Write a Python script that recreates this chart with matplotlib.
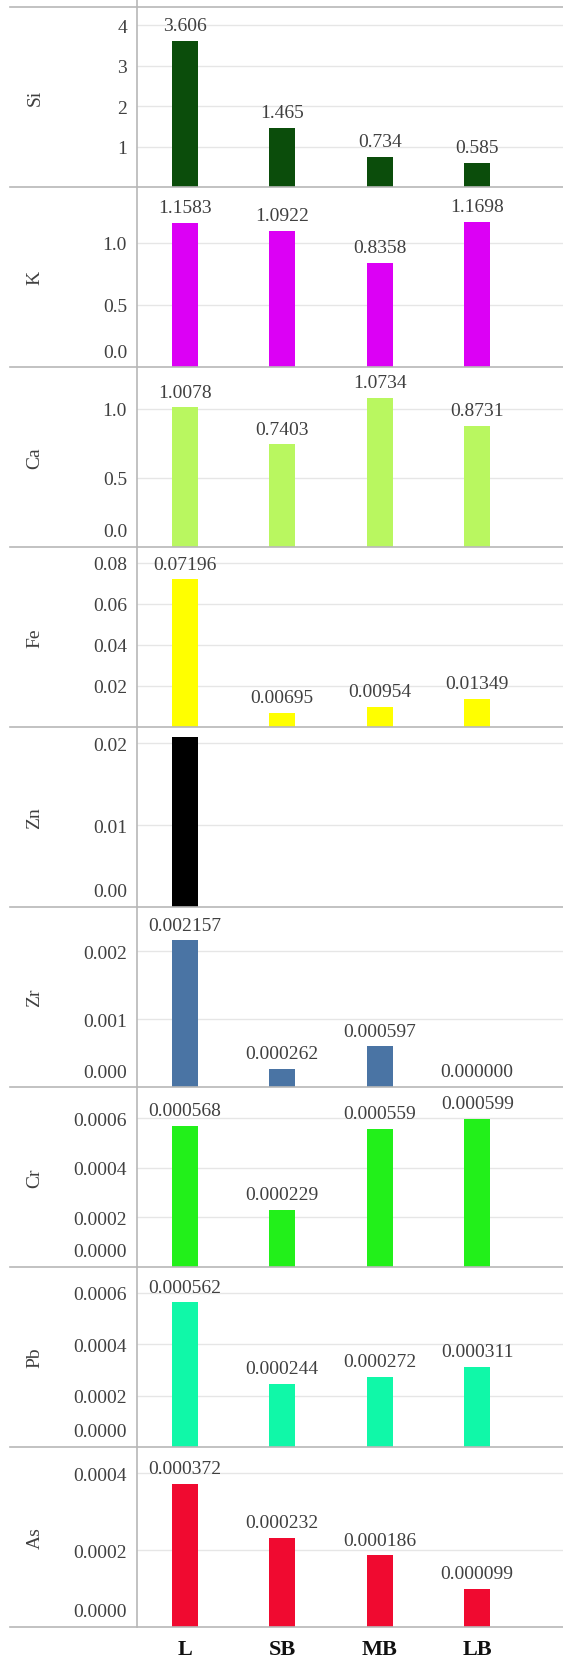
import matplotlib
matplotlib.use('Agg')
import matplotlib.pyplot as plt
from matplotlib.lines import Line2D
from matplotlib.ticker import FuncFormatter

plt.rcParams['font.family'] = ['Liberation Serif', 'DejaVu Serif']

sites = ['L', 'SB', 'MB', 'LB']

elements = ['Si', 'K', 'Ca', 'Fe', 'Zn', 'Zr', 'Cr', 'Pb', 'As']
si = [3.606, 1.465, 0.734, 0.585]
k = [1.1583, 1.0922, 0.8358, 1.1698]
ca = [1.0078, 0.7403, 1.0734, 0.8731]
fe = [0.07196, 0.00695, 0.00954, 0.01349]
zn = [0.0208, 0.0, 0.0, 0.0]
zr = [0.002157, 0.000262, 0.000597, 0.000000]
cr = [0.000568, 0.000229, 0.000559, 0.000599]
pb = [0.000562, 0.000244, 0.000272, 0.000311]
as_ = [0.000372, 0.000232, 0.000186, 0.000099]
values = [si, k, ca, fe, zn, zr, cr, pb, as_]

colors = ['#0b4d0b', '#dc00f5', '#b9f760', '#ffff00', '#000000',
          '#4a74a4', '#22f01a', '#10f8a8', '#f00a30']

# y range, ticks, tick format, value-label format (None = no labels)
ymax = [4.45, 1.45, 1.30, 0.0878, 0.0220, 0.00265, 0.000727, 0.000700, 0.000468]
yticks = [[1, 2, 3, 4], [0, 0.5, 1.0], [0, 0.5, 1.0],
          [0.02, 0.04, 0.06, 0.08], [0, 0.01, 0.02], [0, 0.001, 0.002],
          [0, 0.0002, 0.0004, 0.0006], [0, 0.0002, 0.0004, 0.0006],
          [0, 0.0002, 0.0004]]
tick_fmt = ['%d', '%.1f', '%.1f', '%.2f', '%.2f', '%.3f', '%.4f', '%.4f', '%.4f']
val_fmt = ['%.3f', '%.4f', '%.4f', '%.5f', None, '%.6f', '%.6f', '%.6f', '%.6f']

W, H = 563, 1658
left = 137
top0 = 8
panel_h = 180
grey_txt = '#404040'
line_c = '#b8b8b8'

fig = plt.figure(figsize=(W / 100, H / 100), dpi=100)

x = list(range(len(sites)))
for i, name in enumerate(elements):
    top = top0 + i * panel_h
    ax = fig.add_axes([left / W, 1 - (top + panel_h) / H, 1 - left / W, panel_h / H])
    ax.bar(x, values[i], width=0.27, color=colors[i], zorder=2)
    ax.set_xlim(-0.49, 3.88)
    ax.set_ylim(0, ymax[i])
    ax.set_yticks(yticks[i])

    fmt = tick_fmt[i]
    ax.yaxis.set_major_formatter(FuncFormatter(
        lambda v, p, fmt=fmt: '' if v == 0 else fmt % v))
    if 0 in yticks[i]:
        # zero label sits a little above the panel border
        ax.annotate(fmt % 0, xy=(0, 0), xycoords=('axes fraction', 'data'),
                    xytext=(-7.2, 10.8), textcoords='offset points',
                    ha='right', va='center', fontsize=14, color=grey_txt)

    ax.yaxis.grid(True, color='#e6e6e6', lw=1, zorder=0)
    ax.set_axisbelow(True)
    for s in ['top', 'right', 'bottom']:
        ax.spines[s].set_visible(False)
    ax.spines['left'].set_color(line_c)
    ax.spines['left'].set_linewidth(1.2)
    ax.tick_params(axis='y', length=0, pad=7.2, labelsize=14, labelcolor=grey_txt)
    ax.tick_params(axis='x', length=0)

    if i == len(elements) - 1:
        ax.set_xticks(x)
        ax.set_xticklabels(sites, fontsize=16, fontweight='bold', color='#111111')
        ax.tick_params(axis='x', pad=9)
    else:
        ax.set_xticks([])

    if val_fmt[i]:
        for xi, v in zip(x, values[i]):
            ax.annotate(val_fmt[i] % v, xy=(xi, v), xytext=(0, 5),
                        textcoords='offset points', ha='center', va='bottom',
                        fontsize=14, color=grey_txt)

    fig.text(35 / W, 1 - (top + panel_h / 2) / H, name, rotation=90,
             ha='center', va='center', fontsize=14, color=grey_txt)

# panel borders across the full width
for i in range(len(elements) + 1):
    yb = 1 - (top0 + i * panel_h) / H
    fig.add_artist(Line2D([10 / W, 1], [yb, yb], color=line_c, lw=1.2))
fig.add_artist(Line2D([left / W, left / W], [1, 1 - top0 / H], color=line_c, lw=1.2))

fig.savefig('out.png', dpi=100)
